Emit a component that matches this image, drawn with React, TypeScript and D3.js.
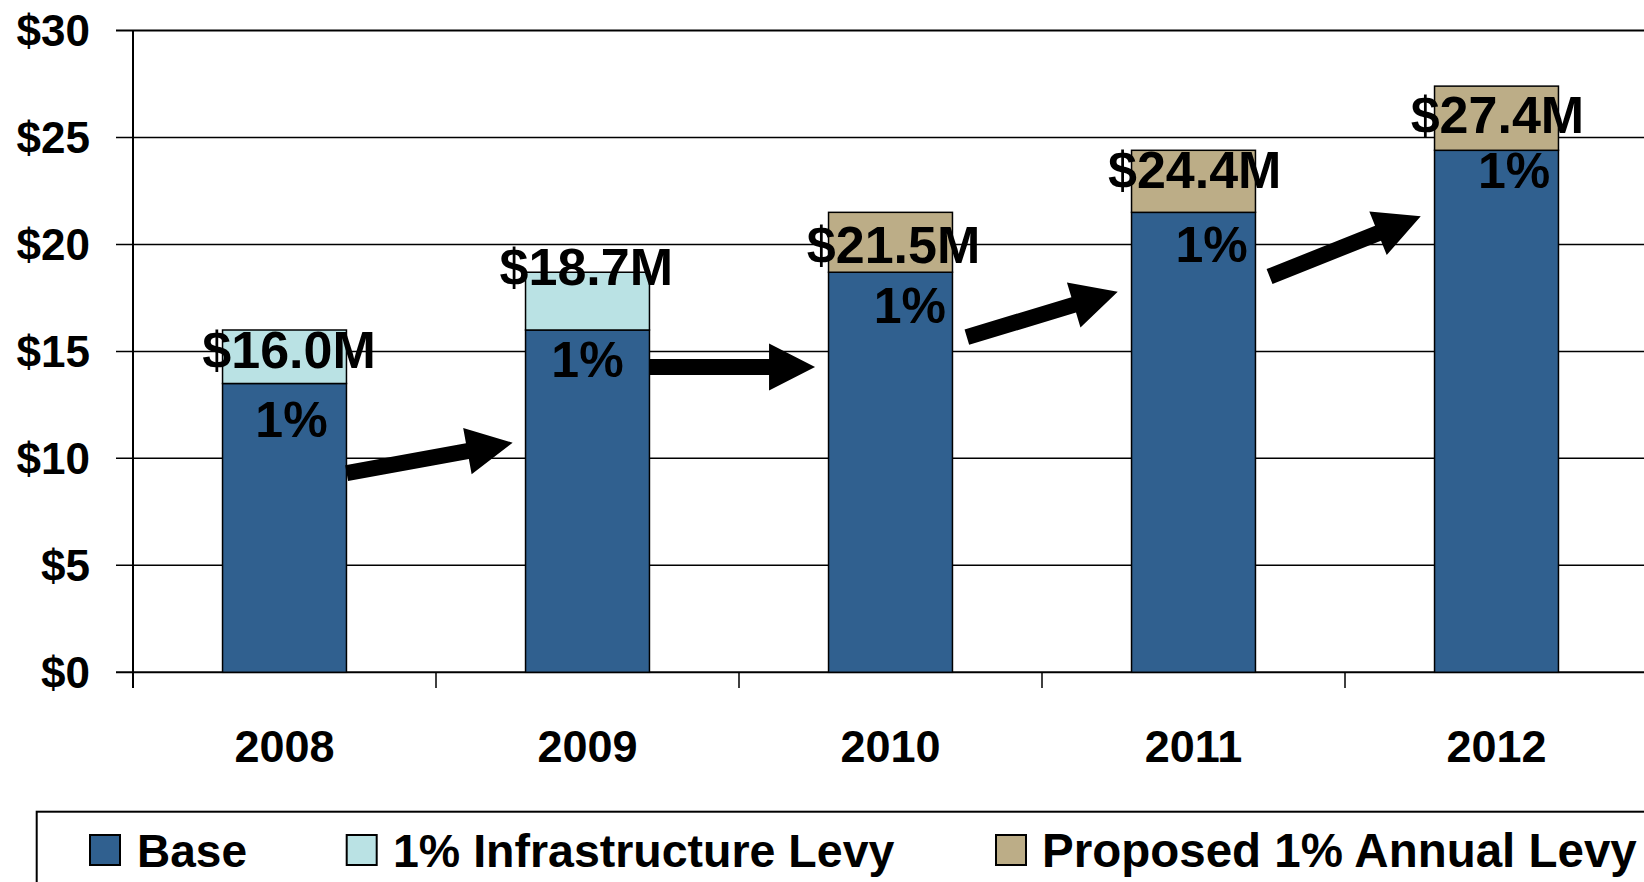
import React from "react";
import * as d3 from "d3";

const years = ["2008", "2009", "2010", "2011", "2012"];
const baseValues = [13.5, 16.0, 18.7, 21.5, 24.4];
const infraLevy = [2.5, 2.7, 0, 0, 0];
const proposedLevy = [0, 0, 2.8, 2.9, 3.0];
const totalLabels = ["$16.0M", "$18.7M", "$21.5M", "$24.4M", "$27.4M"];
const totalLabelY = [14.22, 18.1, 19.14, 22.64, 25.19];
const totalLabelDx = [0.015, -0.004, 0.01, 0.004, 0.003];
const pctLabels = ["1%", "1%", "1%", "1%", "1%"];
const pctLabelY = [11.01, 13.81, 16.31, 19.16, 22.64];
const pctLabelDx = [0.023, 0.0, 0.064, 0.06, 0.058];
const yTicks = [0, 5, 10, 15, 20, 25, 30];
const yTickLabels = ["$0", "$5", "$10", "$15", "$20", "$25", "$30"];
// arrows: [startCat, startValue, endCat, endValue] in category-position / value units
const arrowStartCat = [0.705, 1.706, 2.752, 3.751];
const arrowStartVal = [9.31, 14.27, 15.67, 18.5];
const arrowEndCat = [1.253, 2.251, 3.25, 4.25];
const arrowEndVal = [10.73, 14.27, 17.79, 21.32];
const legendLabels = ["Base", "1% Infrastructure Levy", "Proposed 1% Annual Levy"];

const COLORS = ["#30608F", "#BAE2E4", "#BCAD87"];
const FONT = "'Liberation Sans', Arial, sans-serif";

const W = 1644;
const H = 882;
const plotLeft = 133;
const plotRight = 1648;
const plotTop = 30.5;
const plotBottom = 672.3;

export default function App() {
  const x = d3
    .scaleBand<string>()
    .domain(years)
    .range([plotLeft, plotRight])
    .paddingInner(0.591)
    .paddingOuter(0.2955);
  const catPos = d3.scaleLinear().domain([0, years.length]).range([plotLeft, plotRight]);
  const y = d3.scaleLinear().domain([0, 30]).range([plotBottom, plotTop]);

  const stackData = years.map((yr, i) => ({
    year: yr,
    base: baseValues[i],
    infra: infraLevy[i],
    proposed: proposedLevy[i],
  }));
  const series = d3.stack<any>().keys(["base", "infra", "proposed"])(stackData);

  const arrowPath = (i: number) => {
    const x0 = catPos(arrowStartCat[i]);
    const y0 = y(arrowStartVal[i]);
    const x1 = catPos(arrowEndCat[i]);
    const y1 = y(arrowEndVal[i]);
    const dx = x1 - x0;
    const dy = y1 - y0;
    const len = Math.hypot(dx, dy);
    const ux = dx / len;
    const uy = dy / len;
    const px = -uy;
    const py = ux;
    const sw = 8;
    const hw = 23.5;
    const hl = 46;
    const bx = x1 - ux * hl;
    const by = y1 - uy * hl;
    const pts = [
      [x0 + px * sw, y0 + py * sw],
      [bx + px * sw, by + py * sw],
      [bx + px * hw, by + py * hw],
      [x1, y1],
      [bx - px * hw, by - py * hw],
      [bx - px * sw, by - py * sw],
      [x0 - px * sw, y0 - py * sw],
    ];
    return d3.line()(pts as [number, number][]) + "Z";
  };

  const legendSwatchX = [90, 346.7, 996];
  const legendTextX = [137, 393, 1042];
  const legendFont = [46, 46.5, 47.5];

  return (
    <svg
      width={W}
      height={H}
      style={{ position: "fixed", left: 0, top: 0, background: "#fff" }}
      fontFamily={FONT}
      fontWeight="bold"
    >
      <rect x={0} y={0} width={W} height={H} fill="#fff" />
      {/* gridlines */}
      {yTicks.map((t) => (
        <line
          key={"g" + t}
          x1={116}
          x2={W}
          y1={y(t)}
          y2={y(t)}
          stroke="#000"
          strokeWidth={t === 30 || t === 0 ? 2 : 1.5}
        />
      ))}
      {/* y tick labels */}
      {yTicks.map((t, i) => (
        <text
          key={"yl" + t}
          x={90}
          y={y(t)}
          dy="0.36em"
          textAnchor="end"
          fontSize={44}
          fill="#000"
        >
          {yTickLabels[i]}
        </text>
      ))}
      {/* y axis */}
      <line x1={plotLeft} x2={plotLeft} y1={plotTop} y2={688} stroke="#000" strokeWidth={2} />
      {/* x ticks */}
      {years.map((yr, i) => (
        <line
          key={"xt" + yr}
          x1={catPos(i)}
          x2={catPos(i)}
          y1={plotBottom}
          y2={688}
          stroke="#000"
          strokeWidth={1.5}
        />
      ))}
      {/* bars */}
      {series.map((s, si) =>
        s.map((d, i) =>
          d[1] - d[0] > 0 ? (
            <rect
              key={"b" + si + "-" + i}
              x={x(years[i])}
              width={x.bandwidth()}
              y={y(d[1])}
              height={y(d[0]) - y(d[1])}
              fill={COLORS[si]}
              stroke="#000"
              strokeWidth={1.5}
            />
          ) : null
        )
      )}
      {/* x labels */}
      {years.map((yr) => (
        <text
          key={"xl" + yr}
          x={(x(yr) as number) + x.bandwidth() / 2}
          y={761.7}
          textAnchor="middle"
          fontSize={45}
          fill="#000"
        >
          {yr}
        </text>
      ))}
      {/* arrows */}
      {arrowStartCat.map((_, i) => (
        <path key={"a" + i} d={arrowPath(i)} fill="#000" />
      ))}
      {/* percent labels */}
      {years.map((yr, i) => (
        <text
          key={"p" + yr}
          x={catPos(i + 0.5 + pctLabelDx[i])}
          y={y(pctLabelY[i])}
          textAnchor="middle"
          fontSize={50}
          fill="#000"
        >
          {pctLabels[i]}
        </text>
      ))}
      {/* total labels */}
      {years.map((yr, i) => (
        <text
          key={"t" + yr}
          x={catPos(i + 0.5 + totalLabelDx[i])}
          y={y(totalLabelY[i])}
          textAnchor="middle"
          fontSize={52}
          fill="#000"
        >
          {totalLabels[i]}
        </text>
      ))}
      {/* legend */}
      <rect x={36.7} y={811.7} width={1700} height={200} fill="#fff" stroke="#000" strokeWidth={2} />
      {legendLabels.map((l, i) => (
        <g key={"lg" + i}>
          <rect
            x={legendSwatchX[i]}
            y={835}
            width={30}
            height={30}
            fill={COLORS[i]}
            stroke="#000"
            strokeWidth={2}
          />
          <text x={legendTextX[i]} y={867} fontSize={legendFont[i]} fill="#000">
            {l}
          </text>
        </g>
      ))}
    </svg>
  );
}
